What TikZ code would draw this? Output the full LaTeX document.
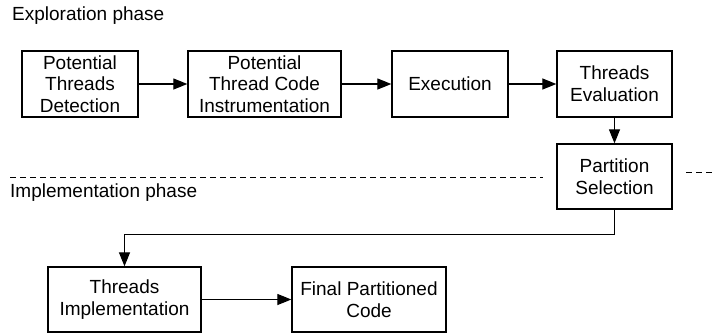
\documentclass[tikz,border=0pt]{standalone}
\usepackage{fontspec}
\setmainfont{Liberation Sans}
\usetikzlibrary{positioning, arrows.meta}

\begin{document}
\begin{tikzpicture}[x=1pt, y=-1pt]
        % Define styles for shapes
        \tikzstyle{block} = [draw, line width=1.3pt, align=center, inner sep=0pt, minimum height=66pt, font=\fontsize{19}{21.7}\selectfont]
        \tikzstyle{phase} = [anchor=west, inner sep=0pt, font=\fontsize{19}{21.7}\selectfont]
        \tikzstyle{flow} = [line width=1.2pt, -{Triangle[length=14pt, width=11pt]}]
        \tikzstyle{divider} = [line width=0.9pt, dash pattern=on 6pt off 4pt]
        \useasboundingbox (0,0) rectangle (716,335);

        % Draw shapes
        \node[phase] (explore) at (12, 16) {Exploration phase};
        \node[block, minimum width=116pt] (detect) at (80, 84) {Potential\\Threads\\Detection};
        \node[block, minimum width=153pt] (instr) at (264.5, 84) {Potential\\Thread Code\\Instrumentation};
        \node[block, minimum width=116pt] (exec) at (450, 84) {Execution};
        \node[block, minimum width=115pt] (eval) at (614.5, 84) {Threads\\Evaluation};
        \node[block, minimum width=115pt, minimum height=65pt] (select) at (614.5, 176.5) {Partition\\Selection};
        \node[phase] (implem) at (10, 193) {Implementation phase};
        \node[block, minimum width=153pt, minimum height=65pt] (impl) at (124.5, 299.5) {Threads\\Implementation};
        \node[block, minimum width=154pt, minimum height=65pt] (final) at (369, 299.5) {Final Partitioned\\Code};

        % Draw dashed separators
        \coordinate (sepA) at (10, 177);
        \coordinate (sepB) at (543, 177);
        \coordinate (sepC) at (686, 172);
        \coordinate (sepD) at (716, 172);
        \draw[divider] (sepA) -- (sepB);
        \draw[divider] (sepC) -- (sepD);

        % Draw arrows
        \draw[flow] (detect) -- (instr);
        \draw[flow] (instr) -- (exec);
        \draw[flow] (exec) -- (eval);
        \draw[flow] (eval) -- (select);
        \draw[flow] (select.south) -- ++(0, 24.5) -| (impl.north);
        \draw[flow] (impl) -- (final);
    \end{tikzpicture}
\end{document}
